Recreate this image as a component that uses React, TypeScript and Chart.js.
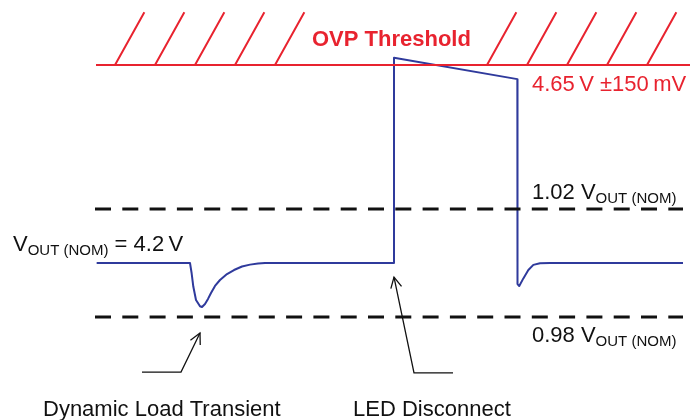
import React, { useEffect, useRef } from "react";
import { Chart, registerables } from "chart.js";

Chart.register(...registerables);

// Time axis in arbitrary units; level axis in % deviation from VOUT(NOM) (schematic, not to scale)
const waveTime = [
  19.33, 38, 38.33, 38.67, 39.2, 40, 40.4, 41, 41.6, 42.2, 43, 44, 45.4, 46.8, 48.4, 50, 51.6, 53,
  78.8, 78.8, 103.47, 103.5, 103.85, 104.67, 105.67, 106.67, 108, 110, 136.6,
];
const waveLevel = [
  0, 0, -0.38, -0.88, -1.37, -1.6, -1.63, -1.52, -1.33, -1.11, -0.85, -0.63, -0.41, -0.26, -0.13, -0.06, -0.02, 0,
  0, 7.6, 6.81, -0.78, -0.85, -0.57, -0.26, -0.07, -0.01, 0, 0,
];

const limitTime = [19, 136.6];
const upperLimit = 2; // 1.02 VOUT(NOM)
const lowerLimit = -2; // 0.98 VOUT(NOM)

const ovpTime = [19.2, 138];
const ovpLevel = 7.33;

const hatchBase = [23, 31, 39, 47, 55, 97.4, 105.4, 113.4, 121.4, 129.4];
const hatchRun = 5.87;
const hatchTop = 9.29;

const loadArrowTime = [28.4, 36.2, 40];
const loadArrowLevel = [-4.04, -4.04, -2.59];
const ledArrowTime = [90.6, 82.8, 78.8];
const ledArrowLevel = [-4.07, -4.07, -0.52];

const RED = "#e8232f";
const BLUE = "#2f3a9c";
const FONT = "'Liberation Sans', Arial, Helvetica, sans-serif";

type Part = { t: string; size: number; bold?: boolean; dy?: number };
type Label = { x: number; y: number; color: string; parts: Part[] };

const labels: Label[] = [
  { x: 62.4, y: 8.04, color: RED, parts: [{ t: "OVP Threshold", size: 22, bold: true }] },
  { x: 106.4, y: 6.37, color: RED, parts: [{ t: "4.65\u2009V ±150\u2009mV", size: 22 }] },
  {
    x: 106.4, y: 2.37, color: "#111",
    parts: [{ t: "1.02 V", size: 22 }, { t: "OUT (NOM)", size: 15, dy: 3.5 }],
  },
  {
    x: 106.4, y: -2.93, color: "#111",
    parts: [{ t: "0.98 V", size: 22 }, { t: "OUT (NOM)", size: 15, dy: 3.5 }],
  },
  {
    x: 2.6, y: 0.44, color: "#111",
    parts: [{ t: "V", size: 22 }, { t: "OUT (NOM)", size: 15, dy: 3.5 }, { t: " = 4.2\u2009V", size: 22 }],
  },
  { x: 8.6, y: -5.67, color: "#111", parts: [{ t: "Dynamic Load Transient", size: 22 }] },
  { x: 70.6, y: -5.67, color: "#111", parts: [{ t: "LED Disconnect", size: 22 }] },
];

const toXY = (xs: number[], ys: number[]) => xs.map((x, i) => ({ x, y: ys[i] }));

const annotationPlugin = {
  id: "schematicAnnotations",
  afterDatasetsDraw(chart: any) {
    const ctx: CanvasRenderingContext2D = chart.ctx;
    const xs = chart.scales.x;
    const ys = chart.scales.y;
    ctx.save();
    // arrowheads at the end of arrow datasets
    chart.data.datasets.forEach((ds: any, i: number) => {
      if (!ds.arrow) return;
      const meta = chart.getDatasetMeta(i);
      const pts = meta.data;
      const a = pts[pts.length - 2];
      const b = pts[pts.length - 1];
      const ang = Math.atan2(b.y - a.y, b.x - a.x);
      const len = 12;
      const spread = (27 * Math.PI) / 180;
      ctx.strokeStyle = "#111";
      ctx.lineWidth = 1.3;
      ctx.beginPath();
      ctx.moveTo(b.x - len * Math.cos(ang - spread), b.y - len * Math.sin(ang - spread));
      ctx.lineTo(b.x, b.y);
      ctx.lineTo(b.x - len * Math.cos(ang + spread), b.y - len * Math.sin(ang + spread));
      ctx.stroke();
    });
    // text labels
    ctx.textBaseline = "alphabetic";
    ctx.textAlign = "left";
    labels.forEach((lb) => {
      let px = xs.getPixelForValue(lb.x);
      const py = ys.getPixelForValue(lb.y);
      ctx.fillStyle = lb.color;
      lb.parts.forEach((p) => {
        ctx.font = `${p.bold ? "bold " : ""}${p.size}px ${FONT}`;
        ctx.fillText(p.t, px, py + (p.dy || 0));
        px += ctx.measureText(p.t).width;
      });
    });
    ctx.restore();
  },
};

export default function App() {
  const ref = useRef<HTMLCanvasElement>(null);

  useEffect(() => {
    const canvas = ref.current!;
    const hatchData: { x: number; y: number | null }[] = [];
    hatchBase.forEach((b) => {
      hatchData.push({ x: b, y: ovpLevel }, { x: b + hatchRun, y: hatchTop }, { x: b + hatchRun, y: null });
    });

    const chart = new Chart(canvas, {
      type: "line",
      data: {
        datasets: [
          {
            label: "OVP threshold",
            data: toXY(ovpTime, [ovpLevel, ovpLevel]),
            borderColor: RED,
            borderWidth: 2,
          },
          {
            label: "hatch",
            data: hatchData as any,
            borderColor: RED,
            borderWidth: 2,
            spanGaps: false,
          },
          {
            label: "1.02 VOUT(NOM)",
            data: toXY(limitTime, [upperLimit, upperLimit]),
            borderColor: "#111",
            borderWidth: 3,
            borderDash: [16, 11.3],
          },
          {
            label: "0.98 VOUT(NOM)",
            data: toXY(limitTime, [lowerLimit, lowerLimit]),
            borderColor: "#111",
            borderWidth: 3,
            borderDash: [16, 11.3],
          },
          {
            label: "Dynamic Load Transient arrow",
            data: toXY(loadArrowTime, loadArrowLevel),
            borderColor: "#111",
            borderWidth: 1.3,
            arrow: true,
          } as any,
          {
            label: "LED Disconnect arrow",
            data: toXY(ledArrowTime, ledArrowLevel),
            borderColor: "#111",
            borderWidth: 1.3,
            arrow: true,
          } as any,
          {
            label: "VOUT",
            data: toXY(waveTime, waveLevel),
            borderColor: BLUE,
            borderWidth: 2,
            borderJoinStyle: "round",
          },
        ],
      },
      options: {
        responsive: false,
        animation: false,
        devicePixelRatio: 1,
        layout: { padding: 0 },
        elements: { point: { radius: 0, hoverRadius: 0 }, line: { tension: 0, fill: false } },
        scales: {
          x: { type: "linear", min: 0, max: 138, display: false },
          y: { type: "linear", min: -5.815, max: 9.741, display: false },
        },
        plugins: { legend: { display: false }, tooltip: { enabled: false } },
        events: [],
      },
      plugins: [annotationPlugin],
    });
    return () => chart.destroy();
  }, []);

  return (
    <div style={{ position: "fixed", left: 0, top: 0, width: 690, height: 420, background: "#fff" }}>
      <canvas ref={ref} width={690} height={420} style={{ display: "block" }} />
    </div>
  );
}
